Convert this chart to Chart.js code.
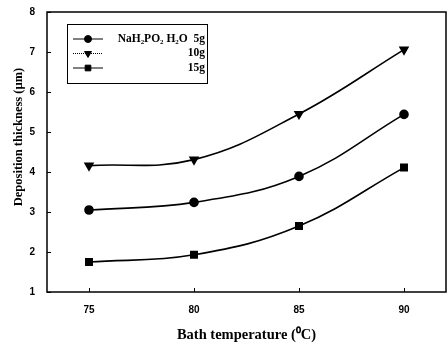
<!DOCTYPE html>
<html>
<head>
<meta charset="utf-8">
<script src="https://cdn.jsdelivr.net/npm/chart.js@4"></script>
<style>
  html, body { margin: 0; padding: 0; background: #fff; }
  #wrap { width: 447px; height: 348px; }
</style>
</head>
<body>
<div id="wrap"><canvas id="chart" width="447" height="348"></canvas></div>
<script>
// bath temperature (°C)
const temps = [75, 80, 85, 90];
// deposition thickness (µm) for each NaH2PO2·H2O amount
const thick5g  = [3.05, 3.24, 3.89, 5.44];
const thick10g = [4.16, 4.31, 5.45, 7.06];
const thick15g = [1.75, 1.93, 2.65, 4.11];
const legendLabels = ['NaH\u2082PO\u2082 H\u2082O  5g', '10g', '15g'];
const yTitle = 'Deposition thickness (\u00b5m)';

const serif = '"Liberation Serif", "Times New Roman", serif';
const sans = '"Liberation Sans", Arial, sans-serif';

function pts(ys) { return temps.map((t, i) => ({ x: t, y: ys[i] })); }

// frame + inward ticks + y title
const framePlugin = {
  id: 'frame',
  afterDraw(chart) {
    const { ctx, chartArea: a, scales } = chart;
    ctx.save();
    ctx.strokeStyle = '#000';
    ctx.lineWidth = 1.5;
    ctx.strokeRect(a.left, a.top, a.right - a.left, a.bottom - a.top);
    ctx.lineWidth = 1;
    scales.x.ticks.forEach(t => {
      const px = Math.round(scales.x.getPixelForValue(t.value)) + 0.5;
      ctx.beginPath(); ctx.moveTo(px, a.bottom); ctx.lineTo(px, a.bottom - 4); ctx.stroke();
    });
    scales.y.ticks.forEach(t => {
      const py = Math.round(scales.y.getPixelForValue(t.value)) + 0.5;
      ctx.beginPath(); ctx.moveTo(a.left, py); ctx.lineTo(a.left + 4, py); ctx.stroke();
    });
    // y axis title, sits a bit above the axis middle like the original
    ctx.translate(19, (a.top + a.bottom) / 2 - 15);
    ctx.rotate(-Math.PI / 2);
    ctx.font = 'bold 12.5px ' + serif;
    ctx.fillStyle = '#000';
    ctx.textAlign = 'center';
    ctx.textBaseline = 'middle';
    ctx.fillText(yTitle, 0, 0);
    ctx.restore();
  }
};

// boxed legend in upper left
const boxLegend = {
  id: 'boxLegend',
  afterDraw(chart) {
    const { ctx, chartArea: a } = chart;
    const x0 = a.left + 20, y0 = a.top + 12, w = 140, h = 59;
    ctx.save();
    ctx.strokeStyle = '#000';
    ctx.lineWidth = 1;
    ctx.strokeRect(x0 + 0.5, y0 + 0.5, w, h);
    ctx.font = 'bold 11.5px ' + serif;
    ctx.fillStyle = '#000';
    ctx.textBaseline = 'middle';
    chart.data.datasets.forEach((ds, i) => {
      const y = y0 + 15 + i * 14.5;
      ctx.beginPath();
      ctx.setLineDash(i === 1 ? [1, 1] : []);
      ctx.moveTo(x0 + 6, y); ctx.lineTo(x0 + 36, y); ctx.stroke();
      ctx.setLineDash([]);
      Chart.helpers.drawPoint(ctx, {
        pointStyle: ds.pointStyle, radius: ds.pointRadius - 0.5,
        rotation: ds.rotation || 0, borderWidth: 1
      }, x0 + 21, y);
      ctx.textAlign = 'right';
      ctx.fillText(legendLabels[i], x0 + w - 2, y);
    });
    ctx.restore();
  }
};

const common = {
  borderColor: '#000', backgroundColor: '#000', pointBorderColor: '#000',
  pointBackgroundColor: '#000', borderWidth: 1.6, tension: 0.4,
  fill: false
};

new Chart(document.getElementById('chart'), {
  type: 'line',
  data: {
    datasets: [
      { ...common, data: pts(thick5g),  pointStyle: 'circle',   pointRadius: 4 },
      { ...common, data: pts(thick10g), pointStyle: 'triangle', pointRadius: 4.5, rotation: 180, pointRotation: 180 },
      { ...common, data: pts(thick15g), pointStyle: 'rect',     pointRadius: 4.5 },
    ],
  },
  options: {
    responsive: false,
    animation: false,
    layout: { autoPadding: false, padding: { top: 12, right: 1, left: 0, bottom: 0 } },
    plugins: { legend: { display: false }, tooltip: { enabled: false } },
    scales: {
      x: {
        type: 'linear', min: 73, max: 92,
        afterBuildTicks: s => { s.ticks = temps.map(v => ({ value: v })); },
        afterFit: s => { s.height = 56; },
        grid: { display: false },
        border: { display: false },
        ticks: { color: '#000', font: { family: sans, weight: 'bold', size: 10 }, padding: 4 },
        title: {
          display: true, text: 'Bath temperature (\u2070C)', color: '#000',
          font: { family: serif, weight: 'bold', size: 14.5 }, padding: { top: 10 }
        },
      },
      y: {
        min: 1, max: 8,
        afterFit: s => { s.width = 47; },
        grid: { display: false },
        border: { display: false },
        ticks: { stepSize: 1, color: '#000', font: { family: sans, weight: 'bold', size: 10 }, padding: 4 },
        title: { display: false },
      },
    },
  },
  plugins: [framePlugin, boxLegend],
});
</script>
</body>
</html>
